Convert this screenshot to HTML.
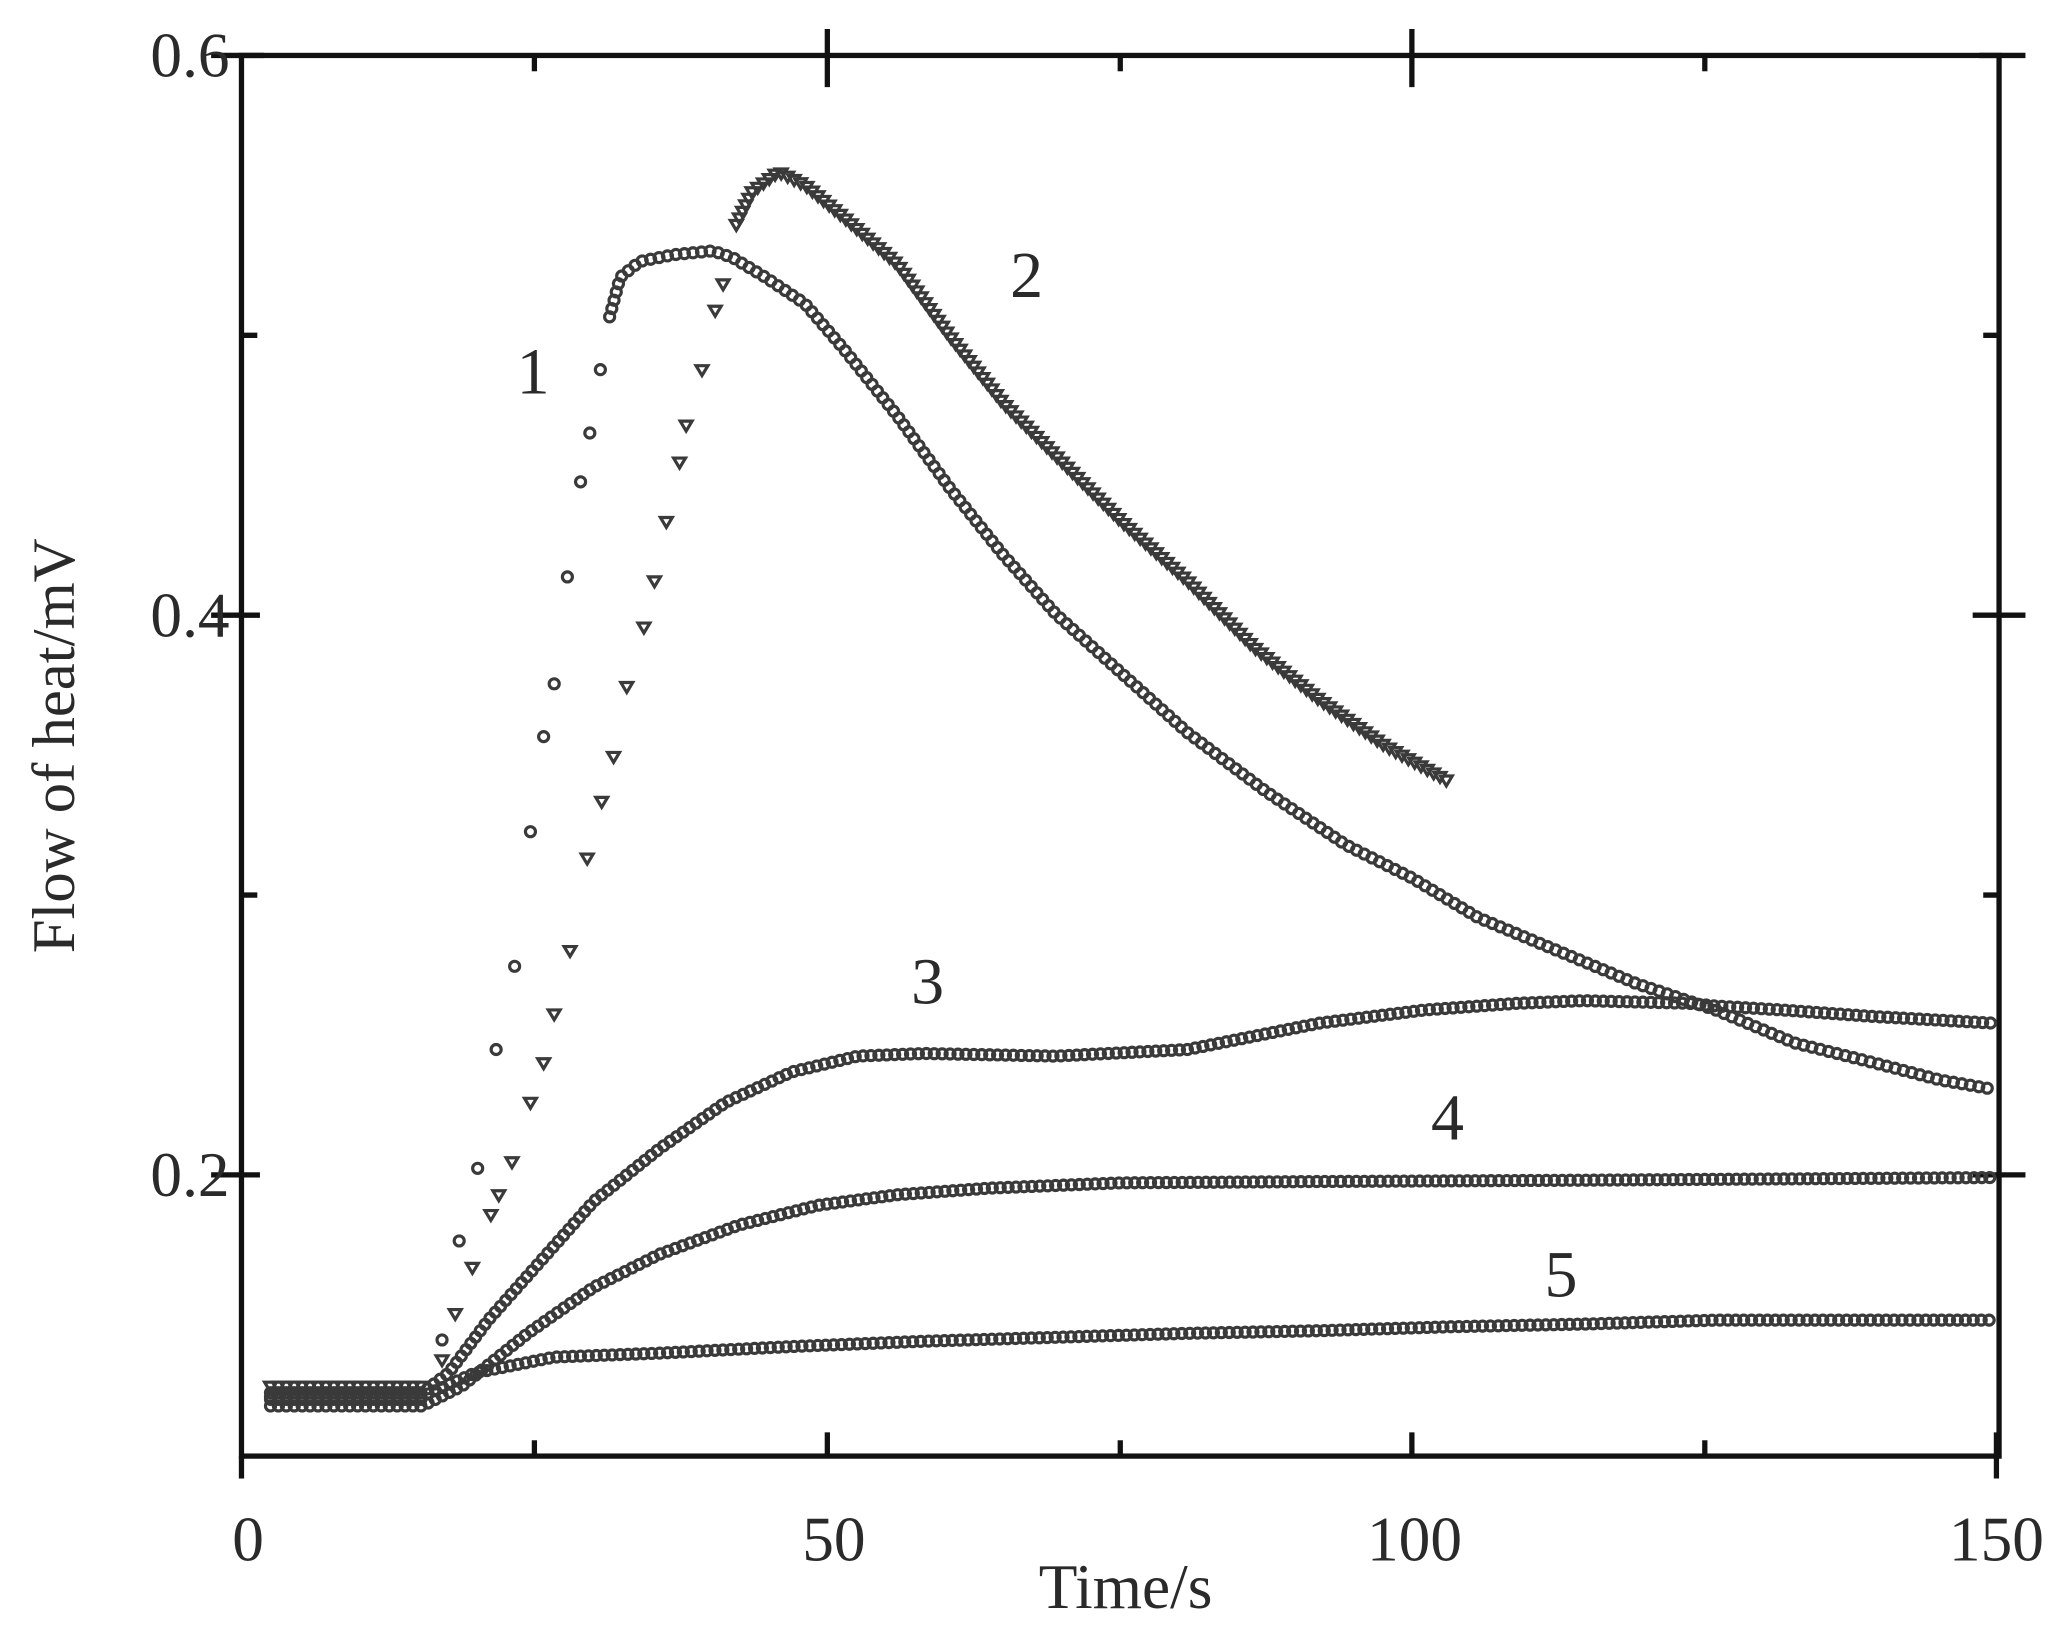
<!DOCTYPE html>
<html><head><meta charset="utf-8"><style>
html,body{margin:0;padding:0;background:#fff;}
svg{display:block;}
text{font-family:"Liberation Serif",serif;fill:#2a2a2a;}
</style></head><body>
<svg id="s" width="2069" height="1633" viewBox="0 0 1568 1237" preserveAspectRatio="none" xmlns="http://www.w3.org/2000/svg">
<g stroke="#111" stroke-width="4" fill="none">
<rect x="183" y="42" width="1332" height="1061"/>
<line x1="627" y1="22" x2="627" y2="66"/><line x1="1070" y1="22" x2="1070" y2="66"/>
<line x1="405" y1="42" x2="405" y2="54"/><line x1="849" y1="42" x2="849" y2="54"/><line x1="1292" y1="42" x2="1292" y2="54"/>
<line x1="160" y1="42" x2="200" y2="42"/><line x1="1500" y1="42" x2="1535" y2="42"/>
<line x1="160" y1="466" x2="197" y2="466"/><line x1="160" y1="890" x2="197" y2="890"/>
<line x1="183" y1="254" x2="195" y2="254"/><line x1="183" y1="678" x2="195" y2="678"/>
<line x1="1495" y1="466" x2="1535" y2="466"/><line x1="1495" y1="890" x2="1535" y2="890"/>
<line x1="1503" y1="254" x2="1515" y2="254"/><line x1="1503" y1="678" x2="1515" y2="678"/>
<line x1="405" y1="1091" x2="405" y2="1103"/><line x1="627" y1="1085" x2="627" y2="1103"/><line x1="849" y1="1091" x2="849" y2="1103"/><line x1="1070" y1="1085" x2="1070" y2="1103"/><line x1="1292" y1="1091" x2="1292" y2="1103"/><line x1="1513" y1="1085" x2="1513" y2="1120"/>
<line x1="183" y1="1103" x2="183" y2="1120"/>
</g>
<g font-size="48" text-anchor="end">
<text x="174" y="58">0.6</text><text x="174" y="482">0.4</text><text x="174" y="906">0.2</text>
</g>
<g font-size="48" text-anchor="middle">
<text x="188" y="1182">0</text><text x="632" y="1182">50</text><text x="1072" y="1182">100</text><text x="1513" y="1182">150</text>
<text x="853" y="1218">Time/s</text>
<text transform="translate(56,565) rotate(-90)" font-size="46">Flow of heat/mV</text>
<text x="404" y="298" font-size="50">1</text><text x="778" y="225" font-size="50">2</text><text x="703" y="760" font-size="50">3</text><text x="1097" y="863" font-size="50">4</text><text x="1183" y="982" font-size="50">5</text>
</g>
<g id="m" fill="none" stroke="#3a3a3a" stroke-width="2.4"></g>
</svg>
<script>
var g=document.getElementById('m'),NS='http://www.w3.org/2000/svg';
function circ(x,y){var c=document.createElementNS(NS,'circle');c.setAttribute('cx',x);c.setAttribute('cy',y);c.setAttribute('r',3.8);g.appendChild(c);}
function tri(x,y){var p=document.createElementNS(NS,'polygon');p.setAttribute('points',(x-4.5)+','+(y-3)+' '+(x+4.5)+','+(y-3)+' '+x+','+(y+4.5));g.appendChild(p);}
function dense(pts,step,f){var acc=0;f(pts[0][0],pts[0][1]);for(var i=1;i<pts.length;i++){var a=pts[i-1],b=pts[i],dx=b[0]-a[0],dy=b[1]-a[1],L=Math.hypot(dx,dy),t=step-acc;while(t<=L){f(a[0]+dx*t/L,a[1]+dy*t/L);t+=step;}acc=L-(t-step);}}
function each(pts,f){pts.forEach(function(p){f(p[0],p[1]);});}
dense([[205,1060],[322,1060]],6,circ);
each([[335,1015],[348,940],[362,885],[376,795],[390,732],[402,630],[412,558],[420,518],[430,437],[440,365],[447,328],[455,280]],circ);
dense([[462,240],[470,210],[485,198],[510,193],[540,190],[555,195],[580,210],[610,230],[640,265],[680,315],[720,370],[760,420],[800,465],[850,510],[900,555],[960,600],[1020,640],[1070,665],[1120,695],[1180,720],[1240,745],[1300,765],[1360,790],[1420,805],[1470,818],[1510,825]],6.5,circ);
dense([[205,1050],[322,1050]],6,tri);
each([[335,1030],[345,995],[358,960],[372,920],[378,905],[388,880],[402,835],[412,805],[420,768],[432,720],[445,650],[456,607],[465,573],[475,520],[488,475],[496,440],[505,395],[515,350],[520,322],[532,280],[542,235],[548,215]],tri);
dense([[558,170],[570,145],[590,130],[610,140],[640,165],[680,200],[720,255],[760,305],[800,345],[850,395],[900,440],[950,490],[1000,530],[1050,565],[1100,593]],5.5,tri);
dense([[205,1055],[320,1055],[340,1040],[370,1000],[410,955],[450,910],[500,870],[550,835],[600,812],[650,800],[700,798],[800,800],[900,795],[950,785],[1000,775],[1080,765],[1150,760],[1200,758],[1280,760],[1300,762],[1350,765],[1420,770],[1510,775]],6,circ);
dense([[205,1065],[320,1065],[350,1050],[400,1010],[450,975],[500,950],[560,928],[620,913],[680,905],[750,900],[850,896],[1000,895],[1200,894],[1510,892]],6,circ);
dense([[205,1058],[320,1058],[360,1040],[420,1028],[500,1025],[600,1020],[700,1016],[800,1013],[900,1010],[1000,1008],[1100,1005],[1200,1003],[1300,1000],[1510,1000]],6,circ);
</script>
</body></html>
